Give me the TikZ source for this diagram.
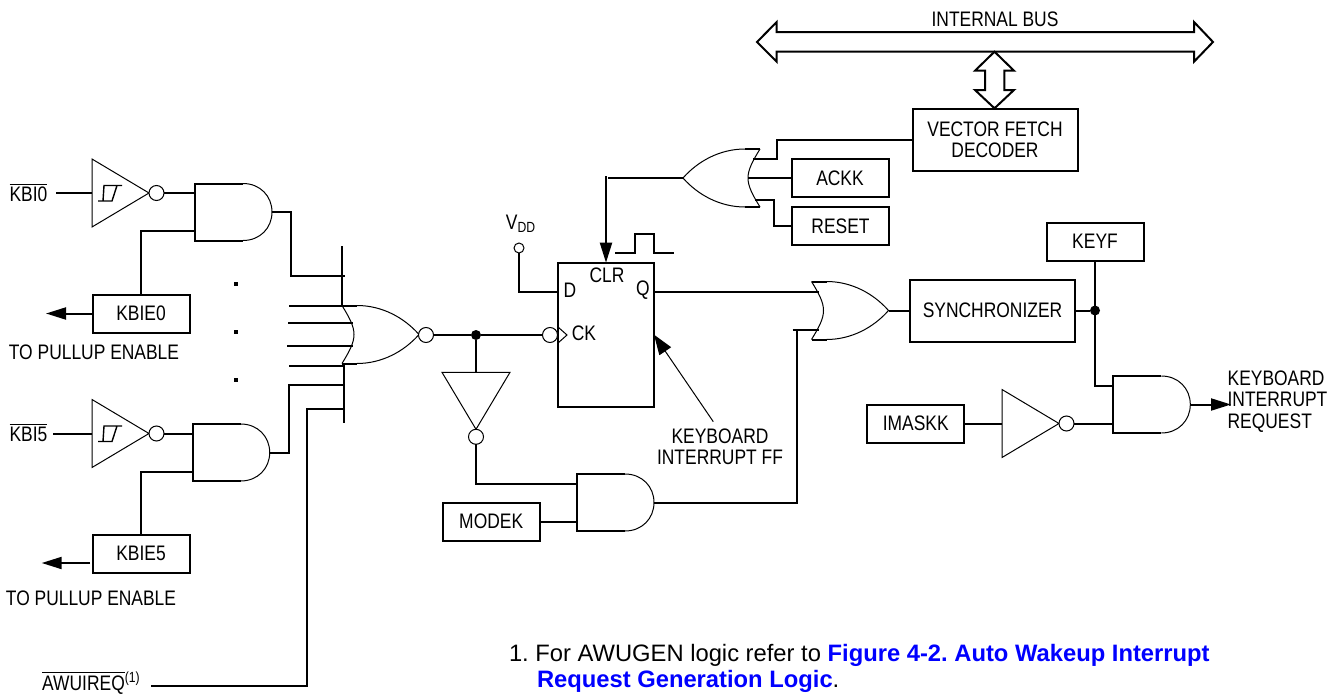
\documentclass[tikz,border=0pt]{standalone}
\usepackage{fontspec}
\usepackage{xcolor}
\usetikzlibrary{arrows.meta}
\setmainfont[FakeStretch=0.83]{Liberation Sans}
\newfontfamily\notefont{Liberation Sans}
\definecolor{linkblue}{rgb}{0,0,1}
\tikzset{
  andgate/.pic={
    \draw [wire] (48,-28.5) -- (0,-28.5) -- (0,28.5) -- (48,28.5);
    \draw [gate] (48,-28.5) .. controls (65,-28.5) and (77,-16) .. (77,0) .. controls (77,16) and (65,28.5) .. (48,28.5);
    \coordinate (-a) at (0,-19);
    \coordinate (-b) at (0,19);
    \coordinate (-y) at (77,0);
  },
  orgate/.pic={
    \draw [wire] (0,-29) -- (15,-29);
    \draw [wire] (0,29) -- (15,29);
    \draw [gate] (0,-29) .. controls (8,-16) and (12,-8) .. (12,0) .. controls (12,8) and (8,16) .. (0,29);
    \draw [gate] (15,-29) .. controls (40,-29) and (62,-17) .. (77,0) .. controls (62,17) and (40,29) .. (15,29);
    \coordinate (-a) at (7,-19);
    \coordinate (-b) at (7,19);
    \coordinate (-c) at (12,0);
    \coordinate (-y) at (77,0);
  },
  invgate/.pic={
    \draw [gate] (0,-34) -- (57,0) -- (0,34) -- cycle;
    \node [bubble] (-o) at (64.5,0) {};
    \coordinate (-a) at (0,0);
    \coordinate (-y) at (72,0);
  },
  schmitt/.pic={
    \draw [line width=0.7pt] (-2,8) -- (12,8) -- (17,-7.5) -- (22,-7.5) -- (4,-7.5) -- (3,8);
  },
}

\begin{document}
\frenchspacing
\begin{tikzpicture}[x=0.5pt,y=-0.5pt,font=\fontsize{10.5}{10.75}\selectfont]
    \tikzstyle{wire}=[line width=1pt]
    \tikzstyle{gate}=[line width=0.5pt]
    \tikzstyle{arrow}=[wire, -{Triangle[length=10pt,width=6pt]}]
    \tikzstyle{thinarrow}=[gate, -{Triangle[length=10pt,width=7pt]}]
    \tikzstyle{box}=[draw, line width=1pt, inner sep=0pt, outer sep=0pt, minimum width=48.5pt, minimum height=19pt, align=center]
    \tikzstyle{bigbox}=[box, minimum width=82.5pt, minimum height=31pt]
    \tikzstyle{bubble}=[draw, circle, gate, fill=white, inner sep=0pt, outer sep=0pt, minimum size=7.5pt]
    \tikzstyle{pin}=[draw, circle, gate, inner sep=0pt, outer sep=0pt, minimum size=5pt]
    \tikzstyle{dot}=[fill, circle, inner sep=0pt, outer sep=0pt, minimum size=5pt]
    \tikzstyle{dotsq}=[fill, inner sep=0pt, minimum size=2pt]
    \tikzstyle{txt}=[inner sep=0pt, outer sep=0pt, align=left]
    \tikzstyle{note}=[txt, anchor=base west, font=\notefont\fontsize{11.88}{11.88}\selectfont]

    \useasboundingbox (0,0) rectangle (1339,696);

    % input side
    \node[txt] (kbio) at (28.5,192.5) {$\overline{\mbox{KBI0}}$};
    \node[txt] (kbif) at (28.5,432.5) {$\overline{\mbox{KBI5}}$};
    \coordinate (kbiow) at (56,193);
    \coordinate (kbifw) at (53,433.5);
    \pic (invo) at (92,193) {invgate};
    \pic at (100,193) {schmitt};
    \pic (invf) at (92,433.5) {invgate};
    \pic at (100,433.5) {schmitt};
    \pic (ando) at (195,212) {andgate};
    \pic (andf) at (192.7,452.5) {andgate};
    \node[box] (kbieo) at (141,313.5) {KBIE0};
    \node[box] (kbief) at (141,553.5) {KBIE5};
    \node[txt] (pullo) at (94,352) {TO PULLUP ENABLE};
    \node[txt] (pullf) at (91,598) {TO PULLUP ENABLE};
    \coordinate (pullotip) at (46,313.5);
    \coordinate (pullfs) at (90,563);
    \coordinate (pullftip) at (41.7,563);
    \node[dotsq] (dota) at (236,284) {};
    \node[dotsq] (dotb) at (236,332) {};
    \node[dotsq] (dotc) at (236,380) {};
    \node[txt] (awui) at (91.5,683) {$\overline{\mbox{AWUIREQ}}$\textsuperscript{(1)}};
    \coordinate (awuiw) at (151,686);

    \draw [wire] (kbiow) -- (invo-a);
    \draw [wire] (kbifw) -- (invf-a);
    \draw [wire] (invo-y) -- (ando-a);
    \draw [wire] (invf-y) -- (andf-a);
    \draw [wire] (ando-b) -| (kbieo.north);
    \draw [wire] (andf-b) -| (kbief.north);
    \draw [arrow] (kbieo.west) -- (pullotip);
    \draw [arrow] (pullfs) -- (pullftip);

    % big nor gate and its input bars
    \pic (nor) at (342,334.5) {orgate};
    \node[bubble] (norb) at (426,335) {};
    \coordinate (bara) at (342,246);
    \coordinate (barb) at (342,305.5);
    \coordinate (barc) at (344,363.5);
    \coordinate (bard) at (344,423);
    \draw [wire] (bara) -- (barb);
    \draw [wire] (barc) -- (bard);
    \coordinate (ina) at (291,276);
    \coordinate (inae) at (345,276);
    \coordinate (inb) at (289,305.5);
    \coordinate (inc) at (288,323);
    \coordinate (ince) at (353,323);
    \coordinate (ind) at (287,346);
    \coordinate (inde) at (353,346);
    \coordinate (ine) at (289,366);
    \coordinate (inee) at (344,366);
    \coordinate (inf) at (289,385);
    \coordinate (infe) at (345,385);
    \coordinate (ing) at (307,409);
    \coordinate (inge) at (345,409);
    \coordinate (inh) at (307,686);
    \draw [wire] (ando-y) -| (ina) -- (inae);
    \draw [wire] (inb) -- (barb);
    \draw [wire] (inc) -- (ince);
    \draw [wire] (ind) -- (inde);
    \draw [wire] (ine) -- (inee);
    \draw [wire] (andf-y) -| (inf) -- (infe);
    \draw [wire] (inge) -- (ing) -- (inh) -- (awuiw);

    % flip flop
    \node[box, minimum width=48pt, minimum height=72pt] (ff) at (606,334.7) {};
    \node[txt] (ffd) at (570,290) {D};
    \node[txt] (ffq) at (643,290) {Q};
    \node[txt] (ffclr) at (607,275) {CLR};
    \node[txt] (ffck) at (584,333) {CK};
    \node[bubble] (ckb) at (550,335) {};
    \draw [gate] (558,327) -- (567,335) -- (558,343);
    \node[dot] (jcka) at (476,335) {};
    \node[pin] (vdd) at (519,248) {};
    \node[txt] (vddl) at (521,224) {V\textsubscript{DD}};
    \coordinate (ffdi) at (558,292);
    \coordinate (ffqo) at (654,291.5);
    \draw [wire] (vdd.south) |- (ffdi);
    \draw [wire] (norb.east) -- (jcka) -- (ckb.west);
    \draw [wire] (615,252.7) -- (635,252.7) -- (635,234) -- (654,234) -- (654,252.7) -- (674,252.7);
    \pic[rotate=-90] (inva) at (476,372.3) {invgate};
    \pic (andm) at (577,502.5) {andgate};
    \node[box] (modek) at (491.2,521.5) {MODEK};
    \node[txt, align=center] (fflab) at (720,447) {KEYBOARD\\INTERRUPT FF};
    \coordinate (fftail) at (713.3,421.7);
    \draw [thinarrow] (fftail) -- (ff.east);
    \draw [wire] (jcka) -- (inva-a);
    \draw [wire] (inva-y) |- (andm-a);
    \draw [wire] (modek.east) -- (andm-b);

    % top: clear logic and bus
    \pic[rotate=180] (orc) at (760,178) {orgate};
    \node[bigbox] (vec) at (995,140) {VECTOR FETCH\\DECODER};
    \node[box] (ackk) at (840,178) {ACKK};
    \node[box] (reset) at (840.5,226) {RESET};
    \coordinate (clrt) at (608,178);
    \coordinate (clrs) at (606,176);
    \coordinate (veca) at (777,159);
    \coordinate (rsta) at (755,200);
    \coordinate (rstb) at (774,200);
    \draw [wire] (orc-y) -- (clrt);
    \draw [arrow] (clrs) -- (ff.north);
    \draw [wire] (orc-b) -- (veca) |- (vec.west);
    \draw [wire] (orc-c) -- (ackk.west);
    \draw [wire] (rsta) -- (rstb) |- (reset.west);
    \node[txt] (busl) at (995,19) {INTERNAL BUS};
    \draw [wire] (776.7,32) -- (776.7,22) -- (757,42) -- (776.7,61.7) -- (776.7,51.7) -- (1194,51.7) -- (1194,61.7) -- (1213,42) -- (1194,22) -- (1194,32) -- cycle;
    \draw [wire] (994.5,51.7) -- (1014,70.7) -- (1004.3,70.7) -- (1004.3,90) -- (1014,90) -- (994.5,108.3) -- (975,90) -- (985,90) -- (985,70.7) -- (975,70.7) -- cycle;

    % output side
    \pic (orq) at (811.5,310.5) {orgate};
    \node[bigbox] (sync) at (992.5,310.5) {SYNCHRONIZER};
    \node[box] (keyf) at (1095,241.5) {KEYF};
    \node[dot] (jkey) at (1095,310.5) {};
    \pic (andq) at (1113.3,404.5) {andgate};
    \pic (invq) at (1002,423.5) {invgate};
    \node[box] (imaskk) at (915.8,423.5) {IMASKK};
    \node[txt] (kirq) at (1277.5,401.5) {KEYBOARD\\INTERRUPT\\REQUEST};
    \coordinate (kirqw) at (1231,404.5);
    \coordinate (orqb) at (792.5,329.5);
    \coordinate (orqd) at (797,502.5);
    \draw [wire] (ffqo) -- (orq-a);
    \draw [wire] (orqb) -- (orq-b);
    \draw [wire] (andm-y) -- (orqd) -- (orqd |- orqb);
    \draw [wire] (orq-y) -- (sync.west);
    \draw [wire] (sync.east) -- (jkey);
    \draw [wire] (keyf.south) |- (andq-a);
    \draw [wire] (imaskk.east) -- (invq-a);
    \draw [wire] (invq-y) -- (andq-b);
    \draw [arrow] (andq-y) -- (kirqw);

    \node[note] (notea) at (509,661) {1. For AWUGEN logic refer to \textcolor{linkblue}{\textbf{Figure 4-2. Auto Wakeup Interrupt}}};
    \node[note] (noteb) at (537,687) {\textcolor{linkblue}{\textbf{Request Generation Logic}}.};
\end{tikzpicture}
\end{document}
